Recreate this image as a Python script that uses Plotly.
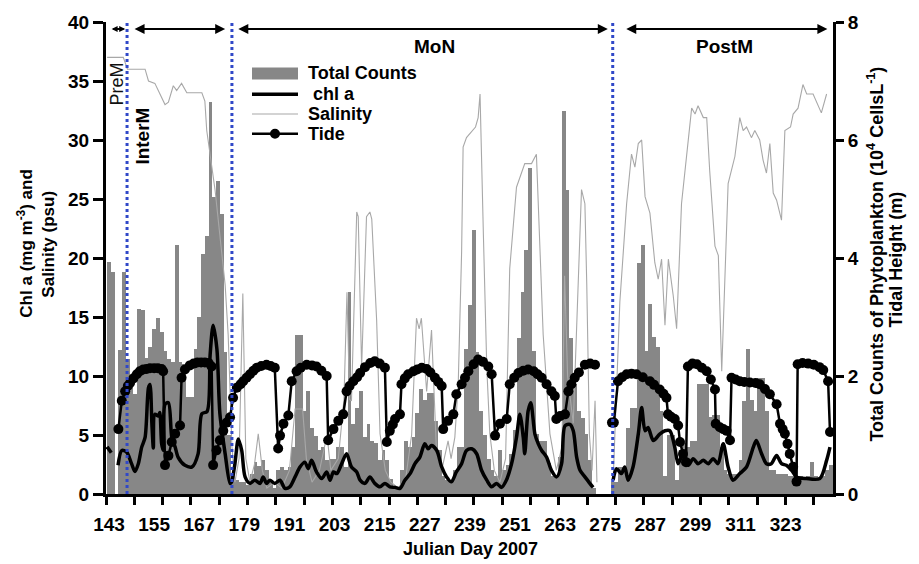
import plotly.graph_objects as go

FONT = "Liberation Sans, Arial, sans-serif"

# ---------------- data ----------------
days = list(range(143, 336))
# Total counts of phytoplankton (10^4 cells/L), one bar per day 143..335
total_counts = [
    3.94, 3.76, 0.0, 2.44, 3.76, 2.28, 2.0, 1.7, 3.14, 3.12,      # 143-152
    2.3, 2.5, 2.8, 2.98, 2.74, 2.42, 2.28, 2.24, 4.22, 2.24,      # 153-162
    2.2, 1.64, 1.64, 2.46, 3.0, 4.06, 4.38, 6.64, 5.04, 5.3,      # 163-172
    4.74, 2.4, 1.0, 0.3, 0.24, 0.2, 0.2, 0.16, 0.34, 0.54,        # 173-182
    0.48, 0.57, 0.4, 0.2, 0.1, 0.4, 0.46, 0.4, 0.46, 0.8,         # 183-192
    2.7, 2.7, 1.4, 1.74, 1.12, 0.98, 0.74, 0.8, 0.57, 0.6,        # 193-202
    0.6, 0.8, 0.8, 0.46, 3.42, 1.18, 1.46, 1.74, 0.96, 1.18,      # 203-212
    0.9, 0.86, 0.58, 0.74, 0.58, 0.26, 0.1, 0.1, 0.4, 0.9,        # 213-222
    0.8, 0.96, 1.38, 1.78, 1.6, 1.72, 1.72, 1.24, 0.74, 0.3,      # 223-232
    0.24, 0.24, 0.4, 0.8, 0.8, 2.46, 3.2, 4.48, 2.4, 1.4,         # 233-242
    1.0, 0.6, 0.4, 0.3, 0.74, 0.4, 0.5, 0.68, 1.08, 2.64,         # 243-252
    3.42, 4.14, 5.52, 2.42, 1.02, 0.9, 0.9, 0.52, 0.3, 0.3,       # 253-262
    0.62, 6.5, 5.16, 2.64, 1.86, 1.4, 1.28, 1.02, 0.57, 0.1,      # 263-272
    0.0, 0.0, 0.0, 0.0, 0.2, 0.2, 0.46, 0.46, 1.12, 1.46,         # 273-282
    1.46, 3.92, 4.22, 2.42, 3.22, 2.66, 2.5, 1.4, 0.3, 1.0,       # 283-292
    1.0, 0.24, 0.74, 0.86, 0.8, 0.9, 0.9, 1.86, 1.86, 1.86,       # 293-302
    1.3, 1.34, 1.34, 0.8, 0.4, 0.34, 0.34, 0.34, 0.57, 1.58,      # 303-312
    2.46, 1.6, 1.4, 1.96, 1.96, 1.4, 0.4, 0.4, 0.34, 0.34,        # 313-322
    0.34, 0.3, 0.3, 0.24, 0.3, 0.24, 0.3, 0.54, 0.3, 0.24,        # 323-332
    0.3, 0.4, 0.5,                                                # 333-335
]

# Tidal height (m)
tide_day = [
    145.5, 146.4, 147.3, 148.0, 148.6, 149.5, 150.4, 151.2, 152.1, 153.0, 153.9, 155.0, 156.0, 157.0, 157.4,
    157.9, 158.8, 159.7, 160.6, 161.9,
    162.3, 163.2, 164.5, 165.5, 166.5, 167.5, 168.5, 169.5, 170.3,
    170.7, 171.6, 172.5, 173.4, 174.3, 175.2,
    176.0, 177.0, 178.0, 178.7, 179.6, 180.5, 181.4, 182.3, 183.5, 184.9, 186.0, 187.1,
    188.0, 188.5, 189.4, 190.7,
    191.6, 192.9, 194.0, 195.6, 197.0, 198.2, 199.5, 200.9,
    201.3, 202.7, 204.0, 205.3,
    206.2, 207.0, 208.0, 209.0, 209.8, 211.1, 212.5, 213.7, 215.0, 216.4,
    216.9, 217.7, 218.5, 219.1, 220.4,
    220.8, 221.7, 222.6, 224.0, 225.0, 226.2, 227.5, 228.5, 229.7, 230.6, 231.5,
    231.9, 233.2, 234.6,
    235.4, 236.8, 237.7, 238.6, 240.0, 241.2, 242.5, 243.9, 244.8,
    245.7, 247.0, 248.8,
    249.6, 250.8, 251.9, 253.2, 254.5, 256.0, 257.0, 258.1, 259.4, 260.7, 261.6,
    262.0, 263.0, 264.3,
    265.2, 266.0, 266.9, 268.0, 269.6, 271.0, 272.3,
    274.5,
    276.8, 277.3,
    278.4, 279.5, 280.7, 282.0, 283.3, 285.0, 286.9, 288.0, 289.5, 290.5, 291.3,
    291.7, 292.5, 293.5, 294.4, 294.9, 295.7, 296.5,
    297.0, 298.2, 299.4, 300.7, 302.0, 303.1, 304.2,
    304.4, 305.5, 306.4, 307.3, 308.2,
    308.6, 309.7, 310.8, 312.0, 313.5, 315.0, 316.1, 317.5, 318.8, 320.6,
    321.5, 322.2, 322.8, 323.5, 324.1, 325.0, 325.9,
    326.2, 327.5, 329.0, 330.5, 332.0, 333.0, 334.3, 334.8,
]
tide_m = [
    1.10, 1.58, 1.74, 1.83, 1.88, 1.96, 2.03, 2.08, 2.11, 2.12, 2.13, 2.13, 2.13, 2.12, 2.08,
    0.49, 0.65, 0.88, 1.02, 1.16,
    1.97, 2.11, 2.18, 2.21, 2.23, 2.23, 2.23, 2.22, 2.16,
    0.49, 0.74, 0.91, 1.07, 1.21, 1.30,
    1.63, 1.80, 1.86, 1.91, 1.97, 2.03, 2.09, 2.14, 2.17, 2.19, 2.17, 2.14,
    0.77, 0.99, 1.19, 1.33,
    1.91, 2.08, 2.14, 2.19, 2.18, 2.16, 2.09, 2.00,
    0.91, 1.10, 1.24, 1.35,
    1.74, 1.83, 1.91, 1.98, 2.05, 2.15, 2.22, 2.25, 2.21, 2.14,
    0.88, 1.07, 1.18, 1.27, 1.35,
    1.86, 1.96, 2.03, 2.08, 2.11, 2.14, 2.12, 2.06, 1.97, 1.90, 1.83,
    1.10, 1.24, 1.35,
    1.69, 1.86, 1.97, 2.08, 2.20, 2.28, 2.24, 2.16, 2.03,
    0.99, 1.19, 1.27,
    1.86, 1.97, 2.05, 2.09, 2.11, 2.08, 2.03, 1.97, 1.86, 1.74, 1.66,
    1.27, 1.32, 1.35,
    1.74, 1.86, 1.97, 2.06, 2.19, 2.21, 2.19,
    None,
    1.21, 1.21,
    1.91, 1.98, 2.03, 2.04, 2.03, 1.98, 1.91, 1.85, 1.77, 1.70, 1.63,
    1.35, 1.31, 1.27, 1.16, 0.88, 0.68, 0.54,
    2.16, 2.21, 2.20, 2.14, 2.08, 1.94, 1.77,
    1.19, 1.13, 1.10, 1.07, 0.91,
    1.97, 1.94, 1.91, 1.90, 1.89, 1.88, 1.86, 1.78, 1.69, 1.52,
    1.19, 1.10, 1.02, 0.85, 0.68, 0.46, 0.21,
    2.20, 2.22, 2.21, 2.19, 2.15, 2.10, 1.91, 1.05,
]

# Chl a (mg m-3)
chl_day = [
    142.5, 143.6, 144.5,
    145.4, 146.4, 147.7, 149.0, 149.9, 150.8, 151.7, 152.6, 153.5, 153.9, 154.4, 154.8, 155.2,
    156.1, 156.5, 157.0, 157.4, 157.9, 158.8, 159.7, 160.6, 161.4, 163.2, 165.1, 166.7, 167.7,
    169.1, 169.9, 170.7, 171.7, 172.5, 173.9, 175.2, 175.6, 176.5, 177.4, 178.3, 179.2, 180.5,
    181.8, 183.2, 184.0, 184.9, 185.8, 187.1, 188.5, 189.8, 191.1, 192.5, 193.8, 195.1, 196.0,
    196.9, 198.2, 199.6, 200.9, 201.8, 202.7, 203.6, 204.9, 206.2, 207.5, 208.9, 209.8, 211.1,
    212.4, 213.7, 215.1, 216.4, 217.7, 219.1, 220.4, 221.7, 223.1, 224.4, 225.7, 227.0, 227.9,
    228.8, 230.2, 231.5, 232.8, 234.1, 235.4, 236.8, 238.1, 239.5, 240.8, 242.1, 243.5, 244.8,
    246.1, 247.4, 248.7, 250.1, 251.4, 252.3, 253.2, 253.6, 254.5, 255.2, 256.3, 257.2, 258.1,
    259.4, 260.7, 262.1, 263.4, 264.3, 265.6, 266.5, 267.4, 268.3, 269.6, 270.9, 271.8,
    274.0,
    277.1, 278.0, 279.3, 280.2, 281.1, 282.4, 283.8, 284.7, 285.6, 286.4, 287.8, 289.5, 290.9,
    292.2, 293.5, 294.4, 295.7, 297.1, 298.4, 299.7, 301.1, 302.4, 303.7, 305.0, 306.4, 307.7,
    309.0, 310.8, 312.6, 314.4, 315.2, 316.6, 317.9, 319.2, 320.6, 321.9, 323.2, 324.6, 325.9,
    328.5, 332.1, 333.9, 334.8,
]
chl_a = [
    4.0, 3.5, None,
    2.43, 3.69, 3.55, 2.57, 1.9, 2.57, 3.97, 4.8, 9.0, 9.28, 6.0, 3.9, 6.76,
    6.6, 6.9, 4.25, 3.7, 7.6, 7.74, 4.8, 3.97, 3.1, 2.43, 2.3, 3.4, 6.8,
    7.0, 11.8, 14.3, 12.3, 6.8, 3.4, 0.9, 1.0, 2.57, 4.67, 3.69, 1.45, 0.9,
    1.17, 0.9, 1.45, 0.9, 1.17, 0.9, 1.17, 0.48, 0.61, 1.45, 2.29, 2.7, 2.15,
    2.85, 1.87, 1.31, 1.87, 1.17, 1.87, 1.73, 2.57, 3.41, 2.29, 1.87, 1.17, 0.9,
    1.45, 0.9, 0.61, 0.9, 0.61, 0.56, 0.48, 1.17, 1.73, 2.57, 3.13, 4.25, 3.83,
    4.1, 3.69, 2.29, 1.45, 1.03, 1.87, 2.57, 3.69, 3.83, 3.41, 2.01, 1.17, 0.61,
    0.9, 0.56, 1.17, 2.57, 4.8, 6.76, 4.8, 3.41, 7.04, 7.74, 5.08, 4.25, 3.69,
    3.13, 2.01, 1.45, 2.57, 5.78, 5.9, 5.36, 3.13, 2.01, 1.45, 0.9, 0.56,
    None,
    1.17, 2.15, 1.73, 2.29, 1.17, 2.29, 5.08, 7.32, 5.36, 5.64, 4.53, 5.08, 5.36,
    5.36, 3.97, 2.57, 3.41, 2.43, 2.99, 2.57, 2.85, 2.57, 2.99, 2.57, 4.25, 2.29,
    1.17, 1.73, 2.29, 3.97, 4.53, 3.41, 2.57, 2.57, 3.27, 2.57, 2.43, 2.01, 1.45,
    1.31, 1.31, 2.85, 3.97,
]

# Salinity (psu)
sal_day = [
    142.5, 146.8, 147.9, 152.6, 153.5, 155.2, 157.9, 158.8, 160.1, 161.0, 162.3, 163.7, 167.7,
    168.5, 169.0, 169.9, 171.2, 172.5, 173.9, 174.7, 175.7, 176.5, 177.6, 178.6, 179.4, 180.5,
    181.7, 182.7, 183.8, 185.0, 187.0, 189.0, 191.0, 192.5, 194.5, 195.5, 197.0, 199.0, 201.0,
    202.0, 204.0, 205.5, 206.3, 207.0, 207.5, 208.9, 209.3, 210.2, 211.5, 212.4, 212.9, 214.2,
    215.1, 216.5, 218.0, 220.0, 222.0, 223.5, 224.8, 225.5, 226.1, 227.5, 228.8, 230.1, 231.5,
    233.2, 234.0, 235.0, 235.9, 236.8, 237.2, 238.1, 240.5, 241.2, 241.7, 242.6, 243.5, 244.3,
    245.5, 247.0, 248.5, 249.6, 251.4, 253.6, 255.4, 256.7, 257.6, 258.5, 260.3, 262.0, 263.5,
    264.2, 265.0, 266.5, 267.5, 268.7, 269.6, 270.1, 270.8, 271.5, 272.3, 272.8,
    275.0,
    277.1, 277.6, 278.9, 280.7, 282.0, 282.9, 283.8, 284.7, 285.6, 286.9, 288.2, 289.1, 290.0,
    290.9, 291.8, 293.1, 294.0, 295.3, 296.6, 298.0, 298.9, 299.7, 301.1, 302.0, 302.8, 304.2,
    305.1, 306.0, 307.7, 309.5, 310.8, 311.7, 312.6, 313.9, 314.8, 316.1, 317.0, 317.9, 318.8,
    319.7, 320.6, 321.9, 322.8, 324.3, 325.0, 326.3, 327.6, 328.6, 330.3, 331.2, 332.5, 333.9,
]
salinity = [
    37.0, 37.0, 36.0, 36.0, 35.0, 34.8, 33.0, 33.2, 34.6, 34.2, 34.8, 34.0, 34.0,
    33.3, 30.8, 28.6, 25.8, 21.9, 17.7, 13.5, 4.0, 1.0, 3.0, 17.0, 3.0, 1.0,
    2.5, 5.1, 2.0, 0.5, 1.0, 0.5, 2.0, 7.2, 7.2, 3.0, 1.0, 2.0, 5.0,
    2.0, 3.0, 8.0, 17.1, 8.0, 7.9, 23.9, 23.5, 10.7, 23.5, 23.9, 23.3, 14.7,
    5.1, 2.0, 1.0, 0.5, 1.5, 5.0, 14.9, 14.0, 14.9, 8.7, 13.9, 3.7, 2.0,
    4.5, 3.0, 4.8, 9.3, 20.5, 29.4, 30.2, 31.1, 31.9, 33.9, 21.9, 10.7, 5.1,
    2.0, 1.0, 3.0, 19.1, 26.0, 28.0, 28.0, 28.8, 21.8, 13.5, 5.1, 2.0, 4.0,
    18.5, 10.0, 6.0, 15.0, 25.8, 24.6, 17.7, 5.0, 2.0, 7.9, 1.0,
    None,
    1.0, 5.1, 16.3, 24.6, 28.8, 27.7, 29.7, 30.0, 25.2, 23.8, 19.6, 18.2, 19.9,
    14.3, 19.9, 16.8, 14.0, 24.6, 28.8, 32.7, 32.2, 32.9, 31.9, 31.9, 27.4, 21.0,
    20.2, 10.4, 26.3, 28.6, 31.9, 30.8, 31.1, 30.2, 30.8, 30.0, 28.3, 27.2, 29.7,
    25.5, 24.9, 23.2, 30.8, 31.1, 32.2, 32.7, 34.7, 33.9, 33.9, 33.3, 32.3, 33.9,
]

# axis ticks / labels
label_days = list(range(143, 324, 12))
minor_tick_days = [142.2 + 7.53 * k for k in range(26)]
x_range = [142.2, 335.6]

# monsoon periods
period_bounds = [147.8, 175.7, 277.0]
period_arrows = [(143.3, 147.3), (149.4, 173.9), (177.0, 275.7), (280.2, 334.1)]

# legend entries
legend_names = ["Total Counts", " chl a", "Salinity", "Tide"]

BAR_COLOR = "#878787"
SAL_COLOR = "#a8a8a8"

# ---------------- figure ----------------
fig = go.Figure()

# bars on the main (right-hand, 0-8) axis: drawn first / lowest
fig.add_trace(go.Bar(
    x=days, y=total_counts, width=1.0, yaxis="y",
    marker=dict(color=BAR_COLOR, line=dict(width=0)),
    name=legend_names[0],
))
# salinity and chl a on the left axis (overlay, drawn above bars)
fig.add_trace(go.Scatter(
    x=sal_day, y=salinity, mode="lines", name=legend_names[2], yaxis="y2",
    line=dict(color=SAL_COLOR, width=1.1), connectgaps=False,
))
fig.add_trace(go.Scatter(
    x=chl_day, y=chl_a, mode="lines", name=legend_names[1], yaxis="y2",
    line=dict(color="black", width=3.5, shape="spline", smoothing=0.8),
    connectgaps=False,
))
# tide on a hidden 0-8 overlay axis: drawn on top
fig.add_trace(go.Scatter(
    x=tide_day, y=tide_m, mode="lines+markers", name=legend_names[3], yaxis="y3",
    line=dict(color="black", width=2.5),
    marker=dict(color="black", size=10, symbol="circle"),
    connectgaps=False,
))

tickfont = dict(family=FONT, size=19, color="black", weight="bold")

fig.update_layout(
    width=919, height=564,
    margin=dict(l=106, r=86, t=17, b=70),
    paper_bgcolor="white", plot_bgcolor="white",
    font=dict(family=FONT, color="black"),
    bargap=0,
    showlegend=False,
    xaxis=dict(
        range=x_range, tickmode="array", tickvals=label_days,
        ticktext=[str(d) for d in label_days],
        ticks="outside", ticklen=11, tickcolor="rgba(0,0,0,0)",
        tickfont=tickfont, showgrid=False, zeroline=False,
        showline=True, linecolor="black", linewidth=3,
        minor=dict(tickmode="array", tickvals=minor_tick_days, ticks="outside",
                   ticklen=8, tickwidth=3, tickcolor="black", showgrid=False),
    ),
    yaxis=dict(
        range=[0, 8], tickmode="linear", tick0=0, dtick=2, side="right",
        ticks="outside", ticklen=8, tickwidth=3, tickcolor="black",
        tickfont=tickfont, showgrid=False, zeroline=False,
        showline=True, linecolor="black", linewidth=3,
    ),
    yaxis2=dict(
        range=[0, 40], tickmode="linear", tick0=0, dtick=5, side="left",
        overlaying="y",
        ticks="outside", ticklen=10, tickwidth=3, tickcolor="black",
        tickfont=tickfont, showgrid=False, zeroline=False,
        showline=True, linecolor="black", linewidth=3,
    ),
    yaxis3=dict(range=[0, 8], overlaying="y", visible=False),
)

# period boundary lines
for b in period_bounds:
    fig.add_shape(type="line", xref="x", yref="paper", x0=b, x1=b, y0=0, y1=1,
                  line=dict(color="#3048c8", width=3, dash="dot"), layer="above")

# period arrows
for i, (a0, a1) in enumerate(period_arrows):
    fig.add_annotation(x=a1, y=0.985, xref="x", yref="paper",
                       ax=a0, ay=0, axref="x", ayref="pixel",
                       text="", showarrow=True, arrowhead=2, arrowside="end+start",
                       arrowwidth=2, arrowsize=0.6 if i == 0 else 1.0,
                       arrowcolor="black", standoff=0, startstandoff=0)

# period labels
fig.add_annotation(x=145.2, y=0.868, xref="x", yref="paper", text="PreM",
                   textangle=-90, showarrow=False, xanchor="center", yanchor="middle",
                   font=dict(family=FONT, size=18, color="#111"))
fig.add_annotation(x=152.0, y=0.759, xref="x", yref="paper", text="<b>InterM</b>",
                   textangle=-90, showarrow=False, xanchor="center", yanchor="middle",
                   font=dict(family=FONT, size=19, color="black"))
fig.add_annotation(x=229.7, y=0.948, xref="x", yref="paper", text="<b>MoN</b>",
                   showarrow=False, xanchor="center", yanchor="middle",
                   font=dict(family=FONT, size=19, color="black"))
fig.add_annotation(x=306.8, y=0.948, xref="x", yref="paper", text="<b>PostM</b>",
                   showarrow=False, xanchor="center", yanchor="middle",
                   font=dict(family=FONT, size=19, color="black"))

# manual legend (glyphs + labels), placed like the original
def px_x(px):
    return (px - 106) / 727.0

def px_y(py):
    return (494 - py) / 477.0

leg_rows = [69, 90, 110, 130]
gx0, gx1, tx = 252, 298, 306
fig.add_shape(type="rect", xref="paper", yref="paper",
              x0=px_x(gx0), x1=px_x(gx1), y0=px_y(leg_rows[0] + 6), y1=px_y(leg_rows[0] - 6),
              fillcolor=BAR_COLOR, line=dict(width=0))
fig.add_shape(type="line", xref="paper", yref="paper",
              x0=px_x(gx0), x1=px_x(gx1), y0=px_y(leg_rows[1]), y1=px_y(leg_rows[1]),
              line=dict(color="black", width=3.5))
fig.add_shape(type="line", xref="paper", yref="paper",
              x0=px_x(gx0), x1=px_x(gx1), y0=px_y(leg_rows[2]), y1=px_y(leg_rows[2]),
              line=dict(color="#c4c4c4", width=1.5))
fig.add_shape(type="line", xref="paper", yref="paper",
              x0=px_x(gx0), x1=px_x(gx1), y0=px_y(leg_rows[3]), y1=px_y(leg_rows[3]),
              line=dict(color="black", width=2.5))
cx = (gx0 + gx1) / 2
fig.add_shape(type="circle", xref="paper", yref="paper",
              x0=px_x(cx - 5), x1=px_x(cx + 5), y0=px_y(leg_rows[3] + 5), y1=px_y(leg_rows[3] - 5),
              fillcolor="black", line=dict(color="black", width=0))
for name, row in zip(legend_names, leg_rows):
    fig.add_annotation(x=px_x(tx), y=px_y(row), xref="paper", yref="paper",
                       text="<b>" + name.replace(" ", "&nbsp;") + "</b>", showarrow=False,
                       xanchor="left", yanchor="middle",
                       font=dict(family=FONT, size=18, color="black"))

# axis titles
title_font = dict(family=FONT, size=17, color="black")
fig.add_annotation(x=px_x(25), y=px_y(241), xref="paper", yref="paper",
                   text="<b>Chl a (mg m<sup>-3</sup>) and</b>", textangle=-90,
                   xanchor="center", yanchor="middle", showarrow=False, font=title_font)
fig.add_annotation(x=px_x(49), y=px_y(241), xref="paper", yref="paper",
                   text="<b>Salinity (psu)</b>", textangle=-90,
                   xanchor="center", yanchor="middle", showarrow=False, font=title_font)
fig.add_annotation(x=px_x(876), y=px_y(252), xref="paper", yref="paper",
                   text="<b>Total Counts of Phytoplankton (10<sup>4</sup> CellsL<sup>-1</sup>)</b>",
                   textangle=-90, xanchor="center", yanchor="middle",
                   showarrow=False, font=dict(family=FONT, size=18, color="black"))
fig.add_annotation(x=px_x(896), y=px_y(257), xref="paper", yref="paper",
                   text="<b>Tidal Height (m)</b>", textangle=-90,
                   xanchor="center", yanchor="middle",
                   showarrow=False, font=dict(family=FONT, size=18, color="black"))
fig.add_annotation(x=px_x(470), y=px_y(550), xref="paper", yref="paper",
                   text="<b>Julian Day 2007</b>", showarrow=False,
                   xanchor="center", yanchor="middle",
                   font=dict(family=FONT, size=18, color="black"))

fig.write_html("out.html")
